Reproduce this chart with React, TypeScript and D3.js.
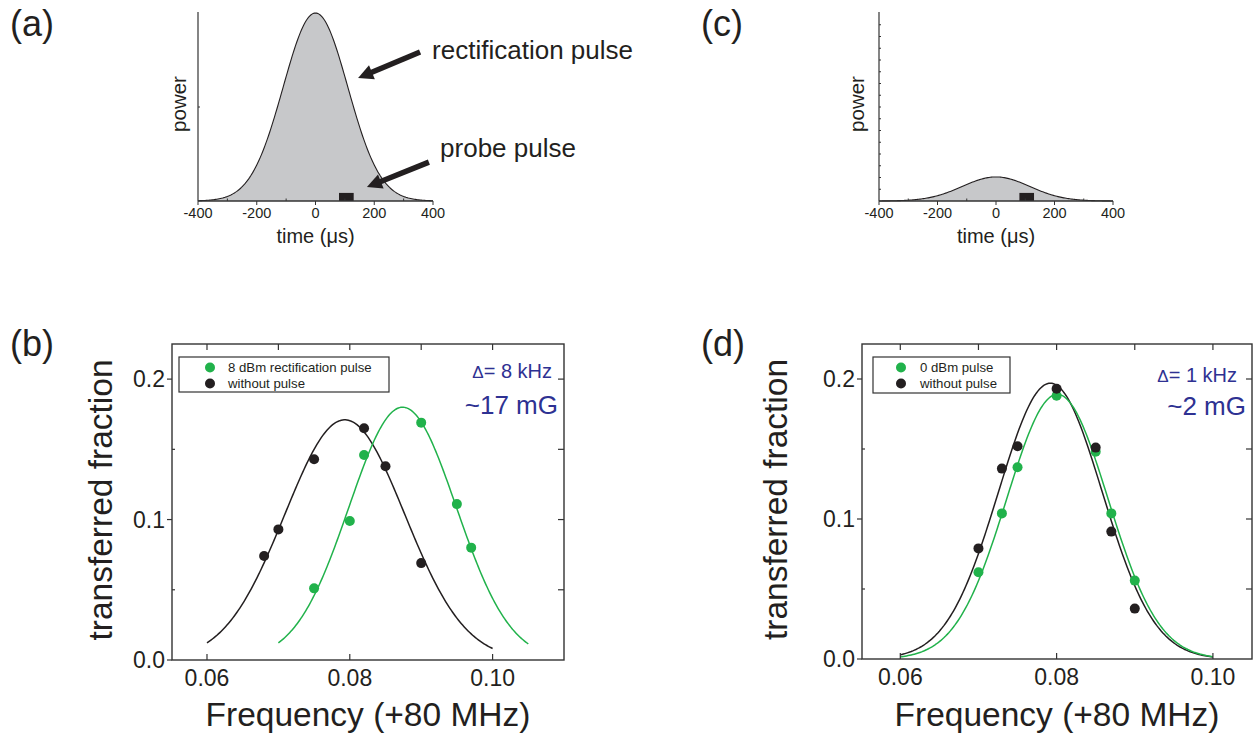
import React from 'react';
import * as d3 from 'd3';

const W = 1258;
const H = 738;
const FONT = "'Liberation Sans', Arial, Helvetica, sans-serif";
const GREEN = '#21b24b';
const BLACK = '#231f20';
const BLUE = '#2e3192';
const FILL_GRAY = '#c7c8ca';
const AXIS = '#333333';

// ---------- pulse panels (a) and (c) ----------
const timeTicks = [-400, -200, 0, 200, 400];
const timeMinorTicks = [-300, -100, 100, 300];
const pulseA = { amp: 1.0, sigma: 110 };
const pulseC = { amp: 0.128, sigma: 115 };
const probeWindow = [80, 130]; // µs
const probeHeight = 0.043;
const powerTicksA = [0.5];
const powerTicksC = d3.range(1, 16).map((i) => i / 16);

// annotation arrows in panel (a), data coordinates (µs, relative power)
const arrowRect = { from: [356, 0.793], to: [145, 0.654] };
const arrowProbe = { from: [386, 0.207], to: [175, 0.074] };
const labelRect = { x: 397, y: 0.755, text: 'rectification pulse' };
const labelProbe = { x: 424, y: 0.234, text: 'probe pulse' };

// ---------- panel (b) ----------
const bGreenX = [0.075, 0.080, 0.082, 0.090, 0.095, 0.097];
const bGreenY = [0.051, 0.099, 0.146, 0.169, 0.111, 0.080];
const bBlackX = [0.068, 0.070, 0.075, 0.082, 0.085, 0.090];
const bBlackY = [0.074, 0.093, 0.143, 0.165, 0.138, 0.069];
const bGreenFit = { amp: 0.180, center: 0.0874, sigma: 0.0075, from: 0.070, to: 0.105 };
const bBlackFit = { amp: 0.171, center: 0.0793, sigma: 0.0084, from: 0.060, to: 0.100 };
const bLegend = ['8 dBm rectification pulse', 'without pulse'];

// ---------- panel (d) ----------
const dGreenX = [0.070, 0.073, 0.075, 0.080, 0.085, 0.087, 0.090];
const dGreenY = [0.062, 0.104, 0.137, 0.188, 0.148, 0.104, 0.056];
const dBlackX = [0.070, 0.073, 0.075, 0.080, 0.085, 0.087, 0.090];
const dBlackY = [0.079, 0.136, 0.152, 0.193, 0.151, 0.091, 0.036];
const dGreenFit = { amp: 0.189, center: 0.0801, sigma: 0.00647, from: 0.060, to: 0.100 };
const dBlackFit = { amp: 0.197, center: 0.0792, sigma: 0.00663, from: 0.060, to: 0.100 };
const dLegend = ['0 dBm pulse', 'without pulse'];

const freqMajor = [0.06, 0.08, 0.10];
const freqMinor = [0.06, 0.07, 0.08, 0.09, 0.10];
const fracMajor = [0.0, 0.1, 0.2];
const fracMinor = [0.05, 0.15];
const fracRight = [0.05, 0.1, 0.15, 0.2];

const gauss = (p: { amp: number; center?: number; sigma: number }, x: number) =>
  p.amp * Math.exp(-((x - (p.center || 0)) ** 2) / (2 * p.sigma * p.sigma));

function Arrow({ x1, y1, x2, y2 }: { x1: number; y1: number; x2: number; y2: number }) {
  const dx = x2 - x1;
  const dy = y2 - y1;
  const len = Math.hypot(dx, dy);
  const ux = dx / len;
  const uy = dy / len;
  const headL = 15;
  const headW = 7.5;
  const bx = x2 - ux * headL;
  const by = y2 - uy * headL;
  const px = -uy;
  const py = ux;
  return (
    <g>
      <line x1={x1} y1={y1} x2={bx + ux * 2} y2={by + uy * 2} stroke={BLACK} strokeWidth={5.5} />
      <polygon
        points={`${x2},${y2} ${bx + px * headW},${by + py * headW} ${bx - px * headW},${by - py * headW}`}
        fill={BLACK}
      />
    </g>
  );
}

function PulsePanel({ x0, x1, pulse, yTicks, label, labelX, powerX, arrows }: any) {
  const x = d3.scaleLinear().domain([-400, 400]).range([x0, x1]);
  const y = d3.scaleLinear().domain([0, 1]).range([201, 13]);
  const pts = d3.range(-400, 401, 4);
  const area = d3.area<number>().x((t) => x(t)).y0(y(0)).y1((t) => y(gauss(pulse, t)));
  const line = d3.line<number>().x((t) => x(t)).y((t) => y(gauss(pulse, t)));
  return (
    <g fontFamily={FONT}>
      <path d={area(pts) || ''} fill={FILL_GRAY} />
      <path d={line(pts) || ''} fill="none" stroke={BLACK} strokeWidth={1.1} />
      <rect
        x={x(probeWindow[0])}
        y={y(probeHeight)}
        width={x(probeWindow[1]) - x(probeWindow[0])}
        height={y(0) - y(probeHeight)}
        fill={BLACK}
      />
      <line x1={x0} y1={12} x2={x0} y2={y(0)} stroke={AXIS} strokeWidth={1.2} />
      <line x1={x0} y1={y(0)} x2={x1} y2={y(0)} stroke={AXIS} strokeWidth={1.4} />
      {yTicks.map((v: number) => (
        <line key={v} x1={x0} x2={x0 + 2} y1={y(v)} y2={y(v)} stroke={AXIS} strokeWidth={1} />
      ))}
      {timeTicks.map((t) => (
        <line key={t} x1={x(t)} x2={x(t)} y1={y(0)} y2={y(0) + 4} stroke={AXIS} strokeWidth={1} />
      ))}
      {timeMinorTicks.map((t) => (
        <line key={t} x1={x(t)} x2={x(t)} y1={y(0)} y2={y(0) - 2.5} stroke={AXIS} strokeWidth={1} />
      ))}
      {timeTicks.map((t) => (
        <text key={t} x={x(t)} y={218} fontSize={14.5} textAnchor="middle" fill={BLACK}>
          {t}
        </text>
      ))}
      <text x={x(0)} y={243} fontSize={20} textAnchor="middle" fill={BLACK}>
        time (μs)
      </text>
      <text
        transform={`translate(${powerX},104) rotate(-90)`}
        fontSize={20.5}
        textAnchor="middle"
        fill={BLACK}
      >
        power
      </text>
      <text x={labelX} y={36} fontSize={36} fill={BLACK}>
        {label}
      </text>
      {arrows &&
        arrows.map((a: any, i: number) => (
          <Arrow key={i} x1={x(a.from[0])} y1={y(a.from[1])} x2={x(a.to[0])} y2={y(a.to[1])} />
        ))}
      {arrows && (
        <>
          <text x={x(labelRect.x)} y={y(labelRect.y)} fontSize={26} fill={BLACK}>
            {labelRect.text}
          </text>
          <text x={x(labelProbe.x)} y={y(labelProbe.y)} fontSize={26} fill={BLACK}>
            {labelProbe.text}
          </text>
        </>
      )}
    </g>
  );
}

function SpectrumPanel({
  left, right, bottom, top, xDomain, green, black, greenFit, blackFit, legend, legendBox,
  delta, field, deltaEnd, fieldEnd, deltaY, fieldY, label, labelX, yLabelX, xLabelCenter,
}: any) {
  const x = d3.scaleLinear().domain(xDomain).range([left, right]);
  const y = d3.scaleLinear().domain([0, 0.225]).range([bottom, top]);
  const fitLine = (p: any) => {
    const xs = d3.range(p.from, p.to + 1e-9, (p.to - p.from) / 200);
    return d3.line<number>().x((v) => x(v)).y((v) => y(gauss(p, v)))(xs) || '';
  };
  const fmtX = d3.format('.2f');
  const fmtY = d3.format('.1f');
  return (
    <g fontFamily={FONT}>
      <path d={fitLine(blackFit)} fill="none" stroke={BLACK} strokeWidth={1.5} />
      <path d={fitLine(greenFit)} fill="none" stroke={GREEN} strokeWidth={1.5} />
      {green.x.map((v: number, i: number) => (
        <circle key={'g' + i} cx={x(v)} cy={y(green.y[i])} r={5} fill={GREEN} />
      ))}
      {black.x.map((v: number, i: number) => (
        <circle key={'b' + i} cx={x(v)} cy={y(black.y[i])} r={5} fill={BLACK} />
      ))}
      <rect x={left} y={top} width={right - left} height={bottom - top} fill="none" stroke={AXIS} strokeWidth={1.4} />
      {freqMajor.map((v) => (
        <line key={'bm' + v} x1={x(v)} x2={x(v)} y1={bottom} y2={bottom - 6} stroke={AXIS} strokeWidth={1.2} />
      ))}
      {freqMinor.map((v) => (
        <line key={'tm' + v} x1={x(v)} x2={x(v)} y1={top} y2={top + 6} stroke={AXIS} strokeWidth={1.2} />
      ))}
      {fracMajor.map((v) => (
        <line key={'lm' + v} x1={left - 5} x2={left} y1={y(v)} y2={y(v)} stroke={AXIS} strokeWidth={1.2} />
      ))}
      {fracMinor.map((v) => (
        <line key={'ln' + v} x1={left} x2={left + 3} y1={y(v)} y2={y(v)} stroke={AXIS} strokeWidth={1.2} />
      ))}
      {fracRight.map((v) => (
        <line key={'r' + v} x1={right - 6} x2={right} y1={y(v)} y2={y(v)} stroke={AXIS} strokeWidth={1.2} />
      ))}
      {freqMajor.map((v) => (
        <text key={'xl' + v} x={x(v)} y={bottom + 26} fontSize={23} textAnchor="middle" fill={BLACK}>
          {fmtX(v)}
        </text>
      ))}
      {fracMajor.map((v) => (
        <text key={'yl' + v} x={left - 7} y={y(v) + 8} fontSize={23} textAnchor="end" fill={BLACK}>
          {fmtY(v)}
        </text>
      ))}
      <text x={xLabelCenter} y={726} fontSize={33.5} textAnchor="middle" fill={BLACK}>
        Frequency (+80 MHz)
      </text>
      <text
        transform={`translate(${yLabelX},${(top + bottom) / 2 - 2}) rotate(-90)`}
        fontSize={33.5}
        textAnchor="middle"
        fill={BLACK}
      >
        transferred fraction
      </text>
      <rect x={legendBox.x} y={legendBox.y} width={legendBox.w} height={legendBox.h} fill="white" stroke={AXIS} strokeWidth={1.2} />
      {legend.map((t: string, i: number) => (
        <g key={t}>
          <circle cx={legendBox.x + legendBox.dot} cy={legendBox.y + 10.5 + i * 16} r={5} fill={i === 0 ? GREEN : BLACK} />
          <text x={legendBox.x + legendBox.text} y={legendBox.y + 15 + i * 16} fontSize={13.2} fill={BLACK}>
            {t}
          </text>
        </g>
      ))}
      <text x={deltaEnd} y={deltaY} fontSize={20} textAnchor="end" fill={BLUE}>
        <tspan fontSize={17}>Δ</tspan>= {delta}
      </text>
      <text x={fieldEnd} y={fieldY} fontSize={26} textAnchor="end" fill={BLUE}>
        {field}
      </text>
      <text x={labelX} y={356} fontSize={36} fill={BLACK}>
        {label}
      </text>
    </g>
  );
}

export default function App() {
  return (
    <div style={{ position: 'absolute', left: 0, top: 0 }}>
      <svg width={W} height={H} viewBox={`0 0 ${W} ${H}`} style={{ display: 'block', background: 'white' }}>
        <PulsePanel
          x0={198}
          x1={433}
          pulse={pulseA}
          yTicks={powerTicksA}
          label="(a)"
          labelX={10}
          powerX={186}
          arrows={[arrowRect, arrowProbe]}
        />
        <PulsePanel
          x0={879}
          x1={1113}
          pulse={pulseC}
          yTicks={powerTicksC}
          label="(c)"
          labelX={701}
          powerX={864}
          arrows={null}
        />
        <SpectrumPanel
          left={172}
          right={564}
          bottom={660}
          top={344}
          xDomain={[0.0551, 0.11]}
          green={{ x: bGreenX, y: bGreenY }}
          black={{ x: bBlackX, y: bBlackY }}
          greenFit={bGreenFit}
          blackFit={bBlackFit}
          legend={bLegend}
          legendBox={{ x: 179, y: 357, w: 210, h: 35, dot: 31, text: 49 }}
          delta="8 kHz"
          field="~17 mG"
          deltaEnd={552}
          fieldEnd={558}
          deltaY={378}
          fieldY={414}
          label="(b)"
          labelX={10}
          yLabelX={112}
          xLabelCenter={368}
        />
        <SpectrumPanel
          left={862}
          right={1252}
          bottom={659}
          top={344}
          xDomain={[0.0551, 0.105]}
          green={{ x: dGreenX, y: dGreenY }}
          black={{ x: dBlackX, y: dBlackY }}
          greenFit={dGreenFit}
          blackFit={dBlackFit}
          legend={dLegend}
          legendBox={{ x: 873, y: 357, w: 137, h: 36, dot: 28, text: 47 }}
          delta="1 kHz"
          field="~2 mG"
          deltaEnd={1237}
          fieldEnd={1246}
          deltaY={382}
          fieldY={415}
          label="(d)"
          labelX={701}
          yLabelX={787}
          xLabelCenter={1057}
        />
      </svg>
    </div>
  );
}
